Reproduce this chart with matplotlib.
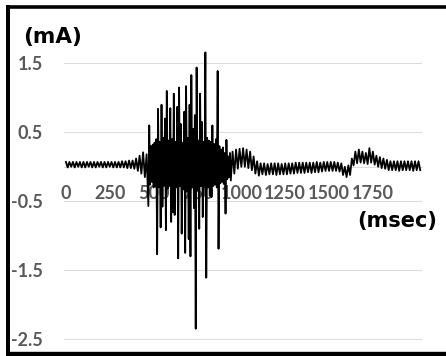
import numpy as np
import matplotlib
matplotlib.use("Agg")
import matplotlib.pyplot as plt
from matplotlib.lines import Line2D

# ---- data (time in msec, current in mA) ----
pre_ms = np.arange(0, 470, 10)
pre_mA = [0.07, -0.01, 0.07, 0.00, 0.07, -0.01, 0.07, 0.00, 0.07, -0.01,
          0.07, -0.01, 0.07, 0.00, 0.07, -0.01, 0.07, -0.01, 0.07, 0.00,
          0.07, -0.01, 0.07, -0.01, 0.07, 0.00, 0.07, -0.01, 0.07, -0.01,
          0.07, -0.01, 0.08, -0.01, 0.08, -0.02, 0.09, -0.02,
          0.09, -0.03, 0.12, -0.06, 0.16, -0.10, 0.21, -0.15, 0.18]

burst_ms = np.arange(470, 940, 5)
burst_mA = [-0.57, 0.60, -0.26, 0.30, -0.22, 0.32, -0.30, 0.35, -0.28, 0.40,
            -1.27, 0.84, -0.30, 0.36, -0.88, 0.90, -0.58, 0.42, -0.27, 0.70,
            -0.92, 1.10, -0.32, 0.38, -0.28, 0.85, -0.80, 0.40, -0.66, 1.06,
            -0.70, 0.36, -0.30, 0.87, -1.33, 1.15, -0.28, 0.62, -0.97, 0.35,
            -0.33, 0.80, -1.25, 1.17, -0.36, 0.42, -1.05, 0.90, -1.30, 1.33,
            -0.30, 0.55, -0.60, 0.75, -2.35, 1.44, -0.34, 0.38, -0.90, 1.06,
            -0.28, 0.65, -0.73, 0.36, -0.30, 1.66, -1.61, 0.42, -0.30, 0.38,
            -0.42, 0.36, -0.44, 0.60, -0.28, 0.33, -0.26, 0.40, -0.30, 1.39,
            -1.19, 0.30, -0.24, 0.25, -0.22, 0.28, -0.25, 0.20, -0.68, 0.39,
            -0.18, 0.15, -0.15, 0.20]

post_ms = np.arange(940, 2030, 10)
post_mA = [-0.20, 0.22, -0.10, 0.25, -0.03, 0.26, 0.00, 0.27, 0.00, 0.25,
           -0.02, 0.22, -0.05, 0.15, -0.10, 0.08, -0.13, 0.05, -0.11, 0.05,
           -0.12, 0.04, -0.11, 0.05, -0.11, 0.05, -0.12, 0.05, -0.11, 0.04,
           -0.11, 0.05, -0.11, 0.05, -0.10, 0.05, -0.10, 0.06, -0.09, 0.06,
           -0.09, 0.06, -0.09, 0.06, -0.08, 0.06, -0.09, 0.06, -0.08, 0.07,
           -0.08, 0.06, -0.07, 0.07, -0.06, 0.07, -0.06, 0.07, -0.06, 0.07,
           -0.06, 0.06, -0.07, 0.05, -0.12, 0.00, -0.15, 0.02, -0.12, 0.12,
           0.02, 0.22, 0.05, 0.25, 0.06, 0.22, 0.05, 0.20, 0.04, 0.27,
           0.06, 0.22, 0.03, 0.16, 0.00, 0.14, -0.02, 0.12, -0.03, 0.10,
           -0.05, 0.08, -0.05, 0.08, -0.05, 0.08, -0.06, 0.08, -0.05, 0.08,
           -0.05, 0.08, -0.05, 0.08, -0.06, 0.08, -0.05, 0.08, -0.05]

x_ticks = [0, 250, 500, 750, 1000, 1250, 1500, 1750]
y_ticks = [1.5, 0.5, -0.5, -1.5, -2.5]
y_label = "(mA)"
x_label = "(msec)"

t = np.concatenate([pre_ms, burst_ms, post_ms])
i = np.concatenate([pre_mA, burst_mA, post_mA])

# ---- figure ----
W, H = 446, 356
fig = plt.figure(figsize=(W / 100, H / 100), dpi=100)
ax = fig.add_axes([64 / W, 1 - 345 / H, (422 - 64) / W, (345 - 45) / H])

grid_c = "#dcdcdc"
tick_c = "#595959"

ax.plot(t, i, color="black", lw=1.3, zorder=3)

ax.set_xlim(-11, 2030)
ax.set_ylim(-2.587, 1.767)

ax.set_yticks(y_ticks)
ax.set_yticklabels([f"{v:.1f}" for v in y_ticks])
ax.set_xticks(x_ticks)
ax.set_xticklabels([str(v) for v in x_ticks])

ax.grid(axis="y", color=grid_c, lw=0.8)
ax.grid(axis="x", visible=False)
ax.set_axisbelow(True)

for s in ["top", "right", "left"]:
    ax.spines[s].set_visible(False)
ax.spines["bottom"].set_position(("data", 0))
ax.spines["bottom"].set_color(grid_c)
ax.spines["bottom"].set_linewidth(0.8)

ax.tick_params(axis="y", length=0, pad=15, labelcolor=tick_c)
ax.tick_params(axis="x", length=0, pad=13, labelcolor=tick_c)
for lab in ax.get_yticklabels() + ax.get_xticklabels():
    lab.set_fontfamily("Lato")
    lab.set_fontweight("bold")
    lab.set_fontsize(13)

fig.text(23 / W, 1 - 37 / H, y_label, ha="left", va="center",
         fontfamily="DejaVu Sans", fontweight="bold", fontsize=15.5, color="black")
fig.text(437 / W, 1 - 221 / H, x_label, ha="right", va="center",
         fontfamily="DejaVu Sans", fontweight="bold", fontsize=15, color="black")

# outer border (cropped on the right)
bw = 4 * 72 / 100
fig.add_artist(Line2D([6 / W, 1.0], [1 - 6.5 / H, 1 - 6.5 / H], transform=fig.transFigure,
                      color="black", lw=bw * 0.9, solid_capstyle="butt"))
fig.add_artist(Line2D([8 / W, 8 / W], [1 - 5 / H, 0.0], transform=fig.transFigure,
                      color="black", lw=bw, solid_capstyle="butt"))
fig.add_artist(Line2D([6 / W, 1.0], [1 - 354 / H, 1 - 354 / H], transform=fig.transFigure,
                      color="black", lw=bw * 1.1, solid_capstyle="butt"))

fig.savefig("out.png", dpi=100, facecolor="white")
